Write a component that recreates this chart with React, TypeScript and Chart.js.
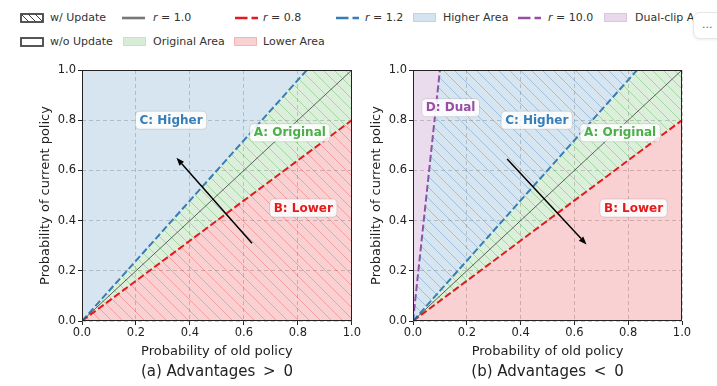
import React, { useEffect, useRef } from "react";
import { Chart, registerables } from "chart.js";

Chart.register(...registerables);

const FAMILY = "'DejaVu Sans', sans-serif";

// ---- data ----
const oldProb = [0, 1];
const lineR10 = [0, 1.0]; // r = 1.0
const lineR08 = [0, 0.8]; // r = 0.8
const lineR12 = [0, 1.2]; // r = 1.2
const lineR100 = [0, 10.0]; // r = 10.0
const tickStep = 0.2;
const axisMin = 0;
const axisMax = 1;

const labelsA = [
  { text: "C: Higher", x: 0.33, y: 0.8, color: "#377eb8" },
  { text: "A: Original", x: 0.77, y: 0.75, color: "#4daf4a" },
  { text: "B: Lower", x: 0.82, y: 0.45, color: "#e41a1c" },
];
const labelsB = [
  { text: "D: Dual", x: 0.14, y: 0.85, color: "#984ea3" },
  { text: "C: Higher", x: 0.46, y: 0.8, color: "#377eb8" },
  { text: "A: Original", x: 0.77, y: 0.75, color: "#4daf4a" },
  { text: "B: Lower", x: 0.82, y: 0.45, color: "#e41a1c" },
];
const arrowA = { from: [0.63, 0.31], to: [0.35, 0.65] };
const arrowB = { from: [0.35, 0.645], to: [0.645, 0.305] };

const captionA = "(a) Advantages \u2009>\u2009 0";
const captionB = "(b) Advantages \u2009<\u2009 0";

// ---- colours ----
const RED = "#e41a1c";
const BLUE = "#377eb8";
const GREEN = "#4daf4a";
const PURPLE = "#984ea3";
const RED_FILL = "rgba(228,26,28,0.2)";
const BLUE_FILL = "rgba(55,126,184,0.2)";
const GREEN_FILL = "rgba(77,175,74,0.2)";
const PURPLE_FILL = "rgba(152,78,163,0.2)";
const RED_HATCH = "rgba(228,26,28,0.28)";
const BLUE_HATCH = "rgba(55,126,184,0.35)";
const GREEN_HATCH = "rgba(77,175,74,0.4)";

function makePattern(fill: string, line: string, s: number) {
  const c = document.createElement("canvas");
  c.width = s;
  c.height = s;
  const g = c.getContext("2d")!;
  g.fillStyle = fill;
  g.fillRect(0, 0, s, s);
  g.strokeStyle = line;
  g.lineWidth = 1;
  g.beginPath();
  for (const k of [-1, 0, 1]) {
    g.moveTo(k * s, 0);
    g.lineTo(k * s + s, s);
  }
  g.stroke();
  return g.createPattern(c, "repeat");
}

function pts(ys: number[]) {
  return oldProb.map((x, i) => ({ x, y: ys[i] }));
}

const overlayPlugin = {
  id: "overlay",
  afterDraw(chart: any) {
    const { ctx, chartArea: a, scales } = chart;
    const xs = scales.x;
    const ys = scales.y;
    const cfg = chart.options.plugins.overlay;
    ctx.save();
    // arrow
    const ar = cfg.arrow;
    const x1 = xs.getPixelForValue(ar.from[0]);
    const y1 = ys.getPixelForValue(ar.from[1]);
    const x2 = xs.getPixelForValue(ar.to[0]);
    const y2 = ys.getPixelForValue(ar.to[1]);
    const ang = Math.atan2(y2 - y1, x2 - x1);
    const hl = 8;
    const hw = 3;
    ctx.strokeStyle = "#000";
    ctx.fillStyle = "#000";
    ctx.lineWidth = 1.5;
    ctx.beginPath();
    ctx.moveTo(x1, y1);
    ctx.lineTo(x2 - hl * Math.cos(ang), y2 - hl * Math.sin(ang));
    ctx.stroke();
    ctx.beginPath();
    ctx.moveTo(x2, y2);
    ctx.lineTo(
      x2 - hl * Math.cos(ang) + hw * Math.sin(ang),
      y2 - hl * Math.sin(ang) - hw * Math.cos(ang)
    );
    ctx.lineTo(
      x2 - hl * Math.cos(ang) - hw * Math.sin(ang),
      y2 - hl * Math.sin(ang) + hw * Math.cos(ang)
    );
    ctx.closePath();
    ctx.fill();
    // labels
    ctx.font = `bold 12px ${FAMILY}`;
    ctx.textAlign = "center";
    ctx.textBaseline = "middle";
    for (const lb of cfg.labels) {
      const px = xs.getPixelForValue(lb.x);
      const py = ys.getPixelForValue(lb.y);
      const w = ctx.measureText(lb.text).width;
      const bw = w + 8;
      const bh = 18;
      ctx.beginPath();
      if (ctx.roundRect) ctx.roundRect(px - bw / 2, py - bh / 2, bw, bh, 4);
      else ctx.rect(px - bw / 2, py - bh / 2, bw, bh);
      ctx.fillStyle = "rgba(255,255,255,0.85)";
      ctx.fill();
      ctx.strokeStyle = "rgba(0,0,0,0.12)";
      ctx.lineWidth = 1;
      ctx.stroke();
      ctx.fillStyle = lb.color;
      ctx.fillText(lb.text, px, py + 0.5);
    }
    // frame
    ctx.strokeStyle = "#222";
    ctx.lineWidth = 1;
    const l = Math.round(a.left) + 0.5;
    const t = Math.round(a.top) + 0.5;
    const r = Math.round(a.right) - 0.5;
    const b = Math.round(a.bottom) - 0.5;
    ctx.strokeRect(l, t, r - l, b - t);
    ctx.restore();
  },
};

function makeScale(axis: "x" | "y", title: string) {
  const isX = axis === "x";
  return {
    type: "linear",
    min: axisMin,
    max: axisMax,
    afterFit: (s: any) => {
      if (isX) s.height = 38;
      else s.width = 50;
    },
    ticks: {
      stepSize: tickStep,
      autoSkip: false,
      maxRotation: 0,
      padding: isX ? 1 : 2,
      color: "#222",
      font: { family: FAMILY, size: 11.5 },
      callback: (v: any) => Number(v).toFixed(1),
    },
    grid: {
      color: "rgba(140,140,140,0.55)",
      lineWidth: 0.8,
      tickLength: 4,
      tickColor: "#222",
      tickWidth: 1,
    },
    border: { display: false, dash: [4, 3] },
    title: {
      display: true,
      text: title,
      color: "#222",
      font: { family: FAMILY, size: 13 },
      padding: isX ? { top: 0, bottom: 0 } : { top: 6, bottom: 0 },
    },
  };
}

function buildConfig(panel: "a" | "b") {
  const datasets: any[] = [];
  const base = { pointRadius: 0, tension: 0, clip: 0, borderCapStyle: "butt" };
  datasets.push({
    ...base,
    label: "r = 1.0",
    data: pts(lineR10),
    borderColor: "rgba(50,50,50,0.75)",
    borderWidth: 1,
    fill: false,
  });
  if (panel === "a") {
    datasets.push({
      ...base,
      label: "r = 1.2",
      data: pts(lineR12),
      borderColor: BLUE,
      borderWidth: 2,
      borderDash: [7, 3],
      fill: "end",
      backgroundColor: BLUE_FILL,
    });
    datasets.push({
      ...base,
      label: "r = 0.8",
      data: pts(lineR08),
      borderColor: RED,
      borderWidth: 2,
      borderDash: [7, 3],
      fill: "origin",
      backgroundColor: makePattern(RED_FILL, RED_HATCH, 11),
    });
    datasets.push({
      ...base,
      label: "Original Area",
      data: pts(lineR12),
      borderWidth: 0,
      borderColor: "rgba(0,0,0,0)",
      fill: 2,
      backgroundColor: makePattern(GREEN_FILL, GREEN_HATCH, 11),
    });
  } else {
    datasets.push({
      ...base,
      label: "r = 1.2",
      data: pts(lineR12),
      borderColor: BLUE,
      borderWidth: 2,
      borderDash: [7, 3],
      fill: 4,
      backgroundColor: makePattern(BLUE_FILL, BLUE_HATCH, 11),
    });
    datasets.push({
      ...base,
      label: "r = 0.8",
      data: pts(lineR08),
      borderColor: RED,
      borderWidth: 2,
      borderDash: [7, 3],
      fill: "origin",
      backgroundColor: RED_FILL,
    });
    datasets.push({
      ...base,
      label: "Original Area",
      data: pts(lineR12),
      borderWidth: 0,
      borderColor: "rgba(0,0,0,0)",
      fill: 2,
      backgroundColor: makePattern(GREEN_FILL, GREEN_HATCH, 11),
    });
    datasets.push({
      ...base,
      label: "r = 10.0",
      data: pts(lineR100),
      borderColor: PURPLE,
      borderWidth: 2,
      borderDash: [7, 3],
      fill: "end",
      backgroundColor: PURPLE_FILL,
    });
  }
  const padding =
    panel === "a"
      ? { top: 15, left: 32, right: 10, bottom: 0 }
      : { top: 15, left: 1, right: 35, bottom: 0 };
  return {
    type: "line",
    data: { datasets },
    plugins: [overlayPlugin],
    options: {
      responsive: false,
      maintainAspectRatio: false,
      animation: false,
      events: [],
      layout: { padding },
      scales: {
        x: makeScale("x", "Probability of old policy"),
        y: makeScale("y", "Probability of current policy"),
      },
      plugins: {
        legend: { display: false },
        tooltip: { enabled: false },
        title: {
          display: true,
          position: "bottom",
          fullSize: false,
          text: panel === "a" ? captionA : captionB,
          color: "#222",
          font: { family: FAMILY, size: 15, weight: "normal" },
          padding: { top: 4, bottom: 5 },
        },
        overlay: {
          labels: panel === "a" ? labelsA : labelsB,
          arrow: panel === "a" ? arrowA : arrowB,
        },
      },
    },
  };
}

function Panel({ panel, left, width }: { panel: "a" | "b"; left: number; width: number }) {
  const ref = useRef<HTMLCanvasElement>(null);
  useEffect(() => {
    const chart = new Chart(ref.current!, buildConfig(panel) as any);
    return () => chart.destroy();
  }, [panel]);
  return (
    <canvas
      ref={ref}
      width={width}
      height={331}
      style={{ position: "absolute", left, top: 55, width, height: 331 }}
    />
  );
}

const textStyle: React.CSSProperties = {
  position: "absolute",
  fontFamily: FAMILY,
  fontSize: 11,
  color: "#333",
  whiteSpace: "nowrap",
  lineHeight: "14px",
};

function Txt({ x, cy, children }: { x: number; cy: number; children: any }) {
  return <span style={{ ...textStyle, left: x, top: cy - 7 }}>{children}</span>;
}

function LineSw({ x, cy, color, dashed }: { x: number; cy: number; color: string; dashed?: boolean }) {
  return (
    <svg style={{ position: "absolute", left: x, top: cy - 5 }} width={24} height={10}>
      <line
        x1={0}
        y1={5}
        x2={23}
        y2={5}
        stroke={color}
        strokeWidth={2.6}
        strokeDasharray={dashed ? "12.5,4" : undefined}
      />
    </svg>
  );
}

function BoxSw({ x, cy, fill, stroke }: { x: number; cy: number; fill: string; stroke: string }) {
  return (
    <svg style={{ position: "absolute", left: x, top: cy - 5 }} width={24} height={10}>
      <rect x={0.5} y={0.5} width={22} height={8} fill={fill} stroke={stroke} strokeWidth={1} />
    </svg>
  );
}

function HatchSw({ x, cy, hatch }: { x: number; cy: number; hatch: boolean }) {
  return (
    <svg style={{ position: "absolute", left: x, top: cy - 5 }} width={25} height={11}>
      <defs>
        <pattern id="lgh" width={7} height={7} patternUnits="userSpaceOnUse">
          <path d="M-7,0 L0,7 M0,0 L7,7 M7,0 L14,7" stroke="#444" strokeWidth={1} />
        </pattern>
      </defs>
      <rect x={1} y={1} width={22} height={8} fill={hatch ? "url(#lgh)" : "white"} stroke="#444" strokeWidth={1.8} />
    </svg>
  );
}

function Legend() {
  const r1 = 18;
  const r2 = 42;
  return (
    <div>
      <HatchSw x={20} cy={r1} hatch />
      <Txt x={50} cy={r1}>w/ Update</Txt>
      <LineSw x={122} cy={r1} color="#777" />
      <Txt x={153} cy={r1}>
        <i>r</i> = 1.0
      </Txt>
      <LineSw x={235} cy={r1} color={RED} dashed />
      <Txt x={263} cy={r1}>
        <i>r</i> = 0.8
      </Txt>
      <LineSw x={336} cy={r1} color={BLUE} dashed />
      <Txt x={365} cy={r1}>
        <i>r</i> = 1.2
      </Txt>
      <BoxSw x={413} cy={r1} fill="rgba(55,126,184,0.22)" stroke="rgba(55,126,184,0.25)" />
      <Txt x={443} cy={r1}>Higher Area</Txt>
      <LineSw x={518} cy={r1} color={PURPLE} dashed />
      <Txt x={548} cy={r1}>
        <i>r</i> = 10.0
      </Txt>
      <BoxSw x={604} cy={r1} fill="rgba(152,78,163,0.22)" stroke="rgba(152,78,163,0.25)" />
      <Txt x={635} cy={r1}>Dual-clip Area</Txt>

      <HatchSw x={20} cy={r2} hatch={false} />
      <Txt x={50} cy={r2}>w/o Update</Txt>
      <BoxSw x={123} cy={r2} fill="rgba(77,175,74,0.22)" stroke="rgba(77,175,74,0.25)" />
      <Txt x={153} cy={r2}>Original Area</Txt>
      <BoxSw x={234} cy={r2} fill="rgba(228,26,28,0.2)" stroke="rgba(228,26,28,0.25)" />
      <Txt x={263} cy={r2}>Lower Area</Txt>

      <div
        style={{
          position: "absolute",
          left: 693,
          top: 12,
          width: 40,
          height: 27,
          background: "#fff",
          border: "1px solid #e6e6e6",
          borderRadius: 7,
          boxShadow: "0 1px 3px rgba(0,0,0,0.08)",
          fontFamily: FAMILY,
          fontSize: 11,
          color: "#666",
          lineHeight: "24px",
          paddingLeft: 8,
          boxSizing: "border-box",
        }}
      >
        ...
      </div>
    </div>
  );
}

export default function App() {
  return (
    <div
      style={{
        position: "absolute",
        left: 0,
        top: 0,
        width: 717,
        height: 386,
        background: "#fff",
        overflow: "hidden",
      }}
    >
      <Legend />
      <Panel panel="a" left={0} width={362} />
      <Panel panel="b" left={362} width={355} />
    </div>
  );
}
